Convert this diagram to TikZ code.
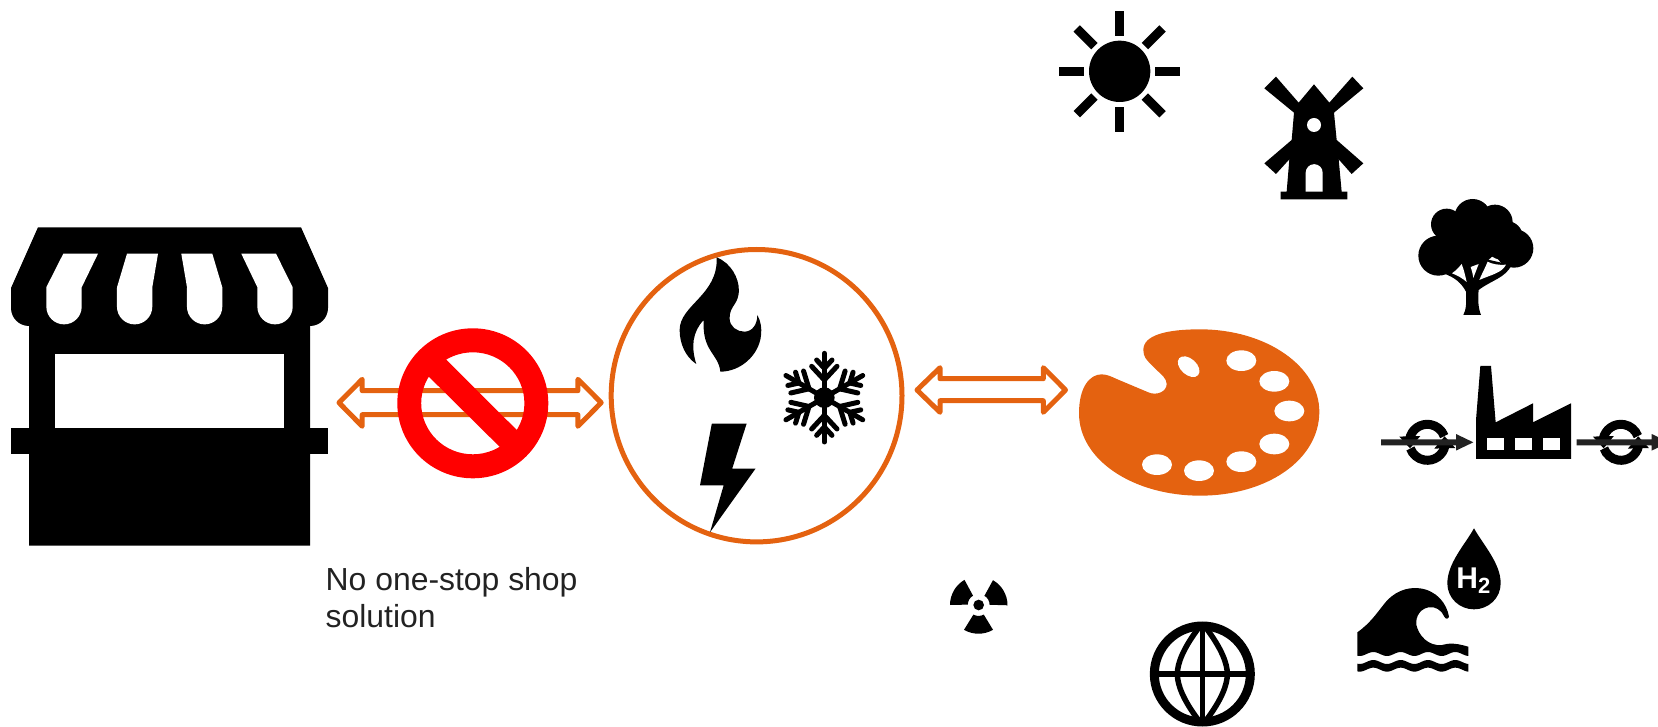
\documentclass[tikz,border=0pt]{standalone}
\usepackage{fontspec}
\setmainfont{Liberation Sans}
\definecolor{brand}{HTML}{E46210}
\definecolor{ink}{HTML}{222222}
\tikzset{
  zoomed/.style 2 args={shift={(#1,#2)},scale=0.33333},
  block arrow/.style={draw=brand,line width=5pt,line join=round,fill=none},
  flow arrow/.style={fill=ink},
  flake/.style={draw=black,line width=5pt,line cap=round},
  recyc/.pic={
    \foreach \r in {0,180}{
      \begin{scope}[rotate=\r]
        \draw[line width=9pt] (-170:18) arc[start angle=-170,end angle=-20,radius=18];
        \fill (-28,-5.7) -- (-7,-6.3) -- (-17.3,6) -- cycle;
      \end{scope}
    }
  }
}
\begin{document}
\begin{tikzpicture}[x=1pt,y=-1pt]
\useasboundingbox (0,0) rectangle (1658,727);
\clip (0,0) rectangle (1658,727);
% store
\fill (38,227.3) -- (301,227.3) -- (328,288) -- (328,308) arc[start angle=0,end angle=90,radius=18] -- (310,545.5) -- (29,545.5) -- (29,326) arc[start angle=90,end angle=180,radius=18] -- (11,288) -- cycle;
\fill (11,428) rectangle (328,454);
\fill[white] (55,354) rectangle (284,428);
\fill[white] (63.3,253.7) -- (98,253.7) -- (81.7,287.3) -- (81.7,306.7) arc[start angle=0,end angle=180,radius=17.67] -- (46.3,287.3) -- cycle;
\fill[white] (127,253.7) -- (158,253.7) -- (152.3,287.3) -- (152.3,306.7) arc[start angle=0,end angle=180,radius=17.67] -- (117,287.3) -- cycle;
\fill[white] (181.3,253.7) -- (212.3,253.7) -- (222.3,287.3) -- (222.3,306.7) arc[start angle=0,end angle=180,radius=17.67] -- (187,287.3) -- cycle;
\fill[white] (241.3,253.7) -- (276,253.7) -- (292.7,287.3) -- (292.7,306.7) arc[start angle=0,end angle=180,radius=17.67] -- (257.4,287.3) -- cycle;
% double arrow left
\draw[block arrow] (339,402.7) -- (362.2,379.3) -- (362.2,390.7) -- (577.9,390.7) -- (577.9,379.3) -- (601.2,402.7) -- (577.9,426.3) -- (577.9,414.7) -- (362.2,414.7) -- (362.2,426.3) -- cycle;
% prohibition
\fill[red,even odd rule] (472.8,403.3) ellipse [x radius=75.5,y radius=75] (472.8,403.3) ellipse [x radius=51.6,y radius=51];
\fill[red] (423.1,371) -- (440.8,354.3) -- (522.5,435.7) -- (505.9,453) -- cycle;
% label
\node[anchor=base west,inner sep=0pt,align=left,text=ink,font=\fontsize{31.9}{37.3}\selectfont] (label) at (325.5,627.3) {No one-stop shop\\solution};
% circle
\draw[brand,line width=5pt] (756.6,395.7) ellipse [x radius=145.4,y radius=146.2];
\begin{scope}[shift={(330,240)},xscale=0.37,yscale=0.33333]
  % flame
  \fill (1045,52) .. controls (1085,70) and (1105,115) .. (1105,150) .. controls (1105,195) and (1080,195) .. (1080,235) .. controls (1080,260) and (1100,275) .. (1120,275) .. controls (1140,275) and (1155,255) .. (1155,225) .. controls (1165,245) and (1167,265) .. (1165,285) .. controls (1160,345) and (1110,395) .. (1055,395) .. controls (1050,340) and (1005,335) .. (1010,240) .. controls (980,275) and (975,320) .. (990,372) .. controls (960,350) and (945,310) .. (945,270) .. controls (945,195) and (1050,165) .. (1045,52) -- cycle;
  % bolt
  \fill (1032,551) -- (1126,551) -- (1087,686) -- (1150,686) -- (1027,877) -- (1064,736) -- (1000,736) -- cycle;
\end{scope}
% snowflake
\begin{scope}[zoomed={379}{240}]
  \fill (1336,473) circle[radius=31];
  \foreach \a in {0,60,...,300}{
    \begin{scope}[rotate around={\a:(1336,473)}]
      \draw[flake] (1336,473) -- (1336,340);
      \draw[flake] (1298,379) -- (1336,420) -- (1374,379);
      \draw[flake] (1313,360) -- (1336,385) -- (1359,360);
    \end{scope}
  }
\end{scope}
% double arrow right
\draw[block arrow] (917,390) -- (940,367.7) -- (940,378.7) -- (1043.3,378.7) -- (1043.3,367.7) -- (1065.5,390) -- (1043.3,412.3) -- (1043.3,400.7) -- (940,400.7) -- (940,412.3) -- cycle;
% palette
\begin{scope}[zoomed={930}{320}]
  \fill[brand] (640,90) .. controls (640,45) and (710,28) .. (810,28) .. controls (1010,28) and (1168,140) .. (1168,275) .. controls (1168,420) and (1010,527) .. (810,527) .. controls (610,527) and (447,420) .. (447,280) .. controls (447,200) and (480,163) .. (515,163) .. controls (530,163) and (545,170) .. (560,177) -- (655,217) .. controls (680,228) and (710,215) .. (710,192) .. controls (710,175) and (695,165) .. (680,150) -- (660,130) .. controls (650,120) and (640,110) .. (640,90) -- cycle;
  \foreach \x/\y in {934/122,1033/184,1078/273,1033/372,934/425,807/452,681/434}
    \fill[white] (\x,\y) ellipse [x radius=45,y radius=31];
  \fill[white,rotate around={-42:(776,140)}] (776,140) ellipse [x radius=38,y radius=24];
\end{scope}
% sun and windmill
\begin{scope}[zoomed={1040}{0}]
  \fill (239,214) circle[radius=92];
  \foreach \a in {0,45,...,315}
    \fill[rotate around={\a:(239,214)}] (225.5,32) rectangle (252.5,107);
  \fill (822,253) -- (868,308) -- (937,230) -- (970,265) -- (882,338) -- (890,420) -- (970,490) -- (935,522) -- (896,478) -- (905,575) -- (922,575) -- (922,598) -- (722,598) -- (722,575) -- (740,575) -- (748,478) -- (708,522) -- (673,490) -- (755,420) -- (762,338) -- (673,265) -- (708,230) -- (776,308) -- cycle;
  \fill[white] (822,375) circle[radius=21];
  \fill[white] (797,575) -- (797,518) arc[start angle=180,end angle=360,radius=25.5] -- (848,575) -- cycle;
\end{scope}
% tree, factory
\begin{scope}[zoomed={1360}{190}]
  \fill (260,103) circle[radius=47];
  \fill (338,82) circle[radius=55];
  \fill (405,97) circle[radius=53];
  \fill (235,197) circle[radius=60];
  \fill (462,175) circle[radius=58];
  \fill (430,150) circle[radius=60];
  \fill (442,140) circle[radius=46];
  \fill (340,150) circle[radius=75];
  \fill (250,250) .. controls (285,262) and (305,280) .. (318,305) .. controls (320,340) and (318,360) .. (310,375) -- (363,375) .. controls (355,355) and (353,330) .. (356,300) .. controls (395,270) and (435,265) .. (455,225) -- (300,190) -- cycle;
  \fill[white] (276,250) .. controls (290,240) and (300,228) .. (305,222) .. controls (312,240) and (316,258) .. (320,276) .. controls (308,265) and (292,256) .. (276,250) -- cycle;
  \fill[white] (332,231) -- (356,222) .. controls (350,238) and (345,250) .. (340,264) .. controls (338,250) and (335,240) .. (332,231) -- cycle;
  \fill[white] (358,270) .. controls (365,252) and (375,235) .. (383,215) .. controls (395,222) and (415,226) .. (438,224) .. controls (425,250) and (390,255) .. (358,270) -- cycle;
  \fill (348,807) -- (348,690) -- (361,528) -- (393,528) -- (407,697) -- (519,640) -- (519,697) -- (633,640) -- (633,807) -- cycle;
  \fill[white] (382,743) rectangle (432,780);
  \fill[white] (465,743) rectangle (516,780);
  \fill[white] (549,743) rectangle (600,780);
\end{scope}
% recycling marks and flow arrows
\pic at (1427.3,442.3) {recyc};
\pic at (1620.9,442.3) {recyc};
\fill[flow arrow] (1381,439.3) -- (1456,439.3) -- (1456,434) -- (1473.3,442.3) -- (1456,450.6) -- (1456,445.3) -- (1381,445.3) -- cycle;
\fill[flow arrow] (1576.7,439.3) -- (1651.7,439.3) -- (1651.7,434) -- (1669,442.3) -- (1651.7,450.6) -- (1651.7,445.3) -- (1576.7,445.3) -- cycle;
% hydrogen drop and wave
\begin{scope}[zoomed={1340}{520}]
  \fill (402,25) .. controls (430,75) and (482,130) .. (482,190) .. controls (482,235) and (445,268) .. (402,268) .. controls (359,268) and (322,235) .. (322,190) .. controls (322,130) and (374,75) .. (402,25) -- cycle;
  \node[text=white,font=\bfseries\fontsize{30}{30}\selectfont,inner sep=0pt] (htwo) at (400,182) {H\raisebox{-5.5pt}{\fontsize{22}{22}\selectfont 2}};
  \fill (52,337) .. controls (90,310) and (110,280) .. (130,255) .. controls (160,215) and (200,200) .. (240,205) .. controls (290,212) and (320,250) .. (327,290) .. controls (325,298) and (316,298) .. (313,290) .. controls (305,270) and (285,258) .. (265,262) .. controls (235,268) and (222,300) .. (232,325) .. controls (245,360) and (280,385) .. (320,372) .. controls (345,368) and (365,375) .. (385,380) -- plot[domain=385:52,samples=60] (\x,{402-6*cos(4.39*(\x-100))}) -- cycle;
  \fill plot[domain=52:385,samples=60] (\x,{426-6*cos(4.39*(\x-100))}) -- plot[domain=385:52,samples=60] (\x,{449-6*cos(4.39*(\x-100))}) -- cycle;
\end{scope}
% radiation, globe
\begin{scope}[zoomed={930}{570}]
  \fill (146,105) circle[radius=16];
  \foreach \a in {0,120,240}{
    \begin{scope}[rotate around={\a:(146,105)}]
      \fill (60,105) arc[start angle=180,end angle=240,radius=87] -- (129,77) arc[start angle=240,end angle=180,radius=31] -- cycle;
    \end{scope}
  }
  \draw[line width=9pt] (817,312) circle[radius=144];
  \draw[line width=5.5pt] (817,166) -- (817,458);
  \draw[line width=5.5pt] (671,312) -- (963,312);
  \draw[line width=5.5pt] (805,175) .. controls (760,235) and (742,280) .. (742,312) .. controls (742,345) and (760,390) .. (805,450);
  \draw[line width=5.5pt] (829,175) .. controls (874,235) and (892,280) .. (892,312) .. controls (892,345) and (874,390) .. (829,450);
\end{scope}
\end{tikzpicture}
\end{document}
